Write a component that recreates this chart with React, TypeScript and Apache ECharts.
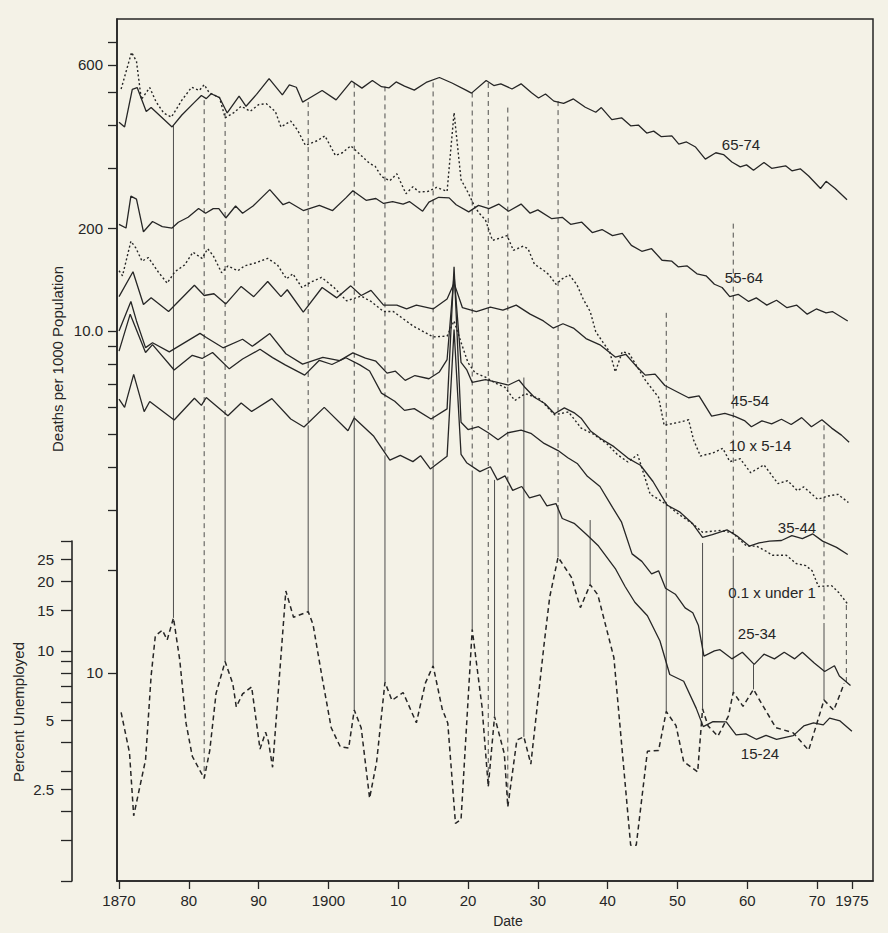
import React, { useEffect, useRef } from 'react';
import * as echarts from 'echarts';

// ---------- axis ticks / labels ----------
const X_TICKS = [1870, 1880, 1890, 1900, 1910, 1920, 1930, 1940, 1950, 1960, 1970, 1975];
const X_TICK_LABELS: Record<number, string> = {
  1870: '1870', 1880: '80', 1890: '90', 1900: '1900', 1910: '10', 1920: '20',
  1930: '30', 1940: '40', 1950: '50', 1960: '60', 1970: '70', 1975: '1975',
};
const DEATH_TICKS = [1, 2, 3, 4, 5, 6, 7, 8, 9, 10, 20, 30, 40, 50, 60, 70];
const DEATH_TICK_LABELS: Record<number, string> = { 1: '10', 10: '10.0', 20: '200', 60: '600' };
const UNEMP_TICKS = [1, 1.5, 2, 2.5, 3, 4, 5, 6, 7, 8, 9, 10, 15, 20, 25, 30];
const UNEMP_TICK_LABELS: Record<number, string> = { 2.5: '2.5', 5: '5', 10: '10', 15: '15', 20: '20', 25: '25' };

// ---------- series: deaths per 1000 ----------
const AGE_65_74 = [
  [1870.0, 40.8], [1870.8, 39.5], [1871.9, 50.9], [1872.6, 51.5], [1873.9, 43.8], [1874.6, 45.0], [1877.6, 39.5],
  [1879.0, 42.8], [1880.8, 46.6], [1881.8, 48.8], [1882.5, 47.8], [1883.2, 49.4], [1884.4, 48.1], [1885.5, 43.4],
  [1887.2, 48.6], [1888.2, 45.4], [1889.7, 49.2], [1891.5, 54.7], [1893.4, 49.0], [1894.4, 52.4], [1895.4, 51.6],
  [1896.3, 46.7], [1897.0, 47.6], [1899.1, 50.5], [1901.1, 47.4], [1903.3, 53.8], [1904.8, 51.3], [1906.3, 54.0],
  [1907.6, 51.8], [1908.7, 51.4], [1909.7, 53.5], [1910.9, 52.0], [1912.3, 50.6], [1914.0, 53.3], [1915.9, 55.1],
  [1917.7, 53.1], [1919.7, 50.6], [1920.5, 49.6], [1922.6, 54.0], [1923.7, 52.2], [1924.7, 52.8], [1926.3, 51.0],
  [1927.6, 52.8], [1929.1, 49.7], [1930.1, 48.0], [1931.1, 49.3], [1932.3, 47.0], [1933.7, 46.3], [1935.1, 47.7],
  [1936.8, 45.1], [1938.3, 43.6], [1939.1, 45.0], [1940.6, 41.5], [1942.0, 42.0], [1943.3, 39.8], [1944.4, 40.0],
  [1945.6, 37.9], [1946.6, 38.4], [1947.7, 37.0], [1949.2, 37.2], [1950.2, 35.2], [1951.3, 35.7], [1952.6, 34.5],
  [1954.0, 31.8], [1955.5, 33.2], [1956.6, 32.8], [1957.8, 31.2], [1959.0, 30.2], [1959.9, 30.6], [1960.9, 29.5],
  [1962.4, 31.1], [1963.5, 29.9], [1965.5, 30.4], [1966.4, 29.4], [1967.6, 29.8], [1968.8, 28.4], [1970.5, 26.1],
  [1971.3, 27.4], [1972.6, 26.1], [1974.3, 24.2],
];
const AGE_55_64 = [
  [1870.0, 20.5], [1871.0, 20.0], [1871.7, 24.8], [1872.5, 24.3], [1873.5, 19.5], [1874.8, 20.9], [1876.2, 20.2],
  [1877.6, 20.0], [1878.5, 20.8], [1879.9, 21.5], [1881.4, 22.8], [1882.4, 22.1], [1883.5, 22.8], [1884.3, 22.8],
  [1885.3, 21.4], [1886.7, 23.2], [1887.7, 22.1], [1889.2, 23.2], [1891.6, 25.9], [1893.5, 23.4], [1894.4, 23.8],
  [1896.4, 22.5], [1898.7, 23.3], [1900.6, 22.5], [1902.5, 24.5], [1903.5, 25.7], [1905.4, 24.1], [1906.8, 24.4],
  [1907.9, 23.6], [1909.2, 23.9], [1910.7, 23.5], [1911.6, 23.9], [1913.5, 22.4], [1914.4, 23.8], [1915.8, 24.6],
  [1917.3, 24.5], [1918.3, 23.4], [1920.1, 22.3], [1921.5, 23.3], [1923.0, 22.8], [1924.4, 23.5], [1925.8, 22.4],
  [1927.6, 23.5], [1928.9, 22.1], [1930.0, 22.6], [1932.0, 21.3], [1933.5, 21.5], [1934.7, 20.5], [1936.3, 20.8],
  [1937.8, 19.4], [1939.2, 19.8], [1940.7, 19.0], [1942.1, 19.3], [1943.4, 17.8], [1944.9, 17.1], [1946.3, 17.4],
  [1947.8, 16.1], [1949.2, 16.0], [1950.1, 15.4], [1951.4, 15.5], [1952.8, 14.7], [1954.1, 14.5], [1955.3, 13.7],
  [1956.4, 13.4], [1957.5, 12.6], [1958.7, 12.8], [1960.2, 12.2], [1961.3, 12.5], [1962.8, 11.9], [1964.2, 12.3],
  [1965.7, 11.7], [1967.1, 11.9], [1968.6, 11.2], [1969.9, 11.6], [1971.3, 11.3], [1972.2, 11.4], [1974.4, 10.7],
];
const AGE_45_54 = [
  [1870.0, 12.6], [1872.0, 14.9], [1873.5, 11.95], [1874.6, 12.5], [1877.1, 11.4], [1880.8, 13.6], [1882.2, 12.7],
  [1883.6, 12.85], [1885.3, 12.0], [1887.5, 13.5], [1889.3, 12.6], [1891.3, 13.95], [1893.2, 12.6], [1894.1, 13.2],
  [1896.4, 11.35], [1899.1, 13.4], [1901.2, 12.5], [1903.2, 13.55], [1904.7, 12.7], [1906.1, 13.15], [1907.9, 11.9],
  [1909.8, 11.9], [1911.2, 11.6], [1912.6, 11.9], [1915.0, 11.6], [1917.0, 12.4], [1918.0, 13.8], [1919.2, 11.7],
  [1921.2, 11.4], [1923.2, 11.75], [1925.0, 11.5], [1926.9, 11.9], [1928.9, 11.2], [1930.8, 10.7], [1932.2, 10.2],
  [1933.6, 10.5], [1935.1, 10.2], [1936.9, 9.5], [1938.9, 9.11], [1941.1, 8.39], [1942.6, 8.55], [1944.0, 7.93],
  [1945.4, 7.43], [1946.8, 7.48], [1948.2, 6.93], [1950.2, 6.6], [1951.6, 6.38], [1953.1, 6.46], [1954.9, 5.64],
  [1956.8, 5.74], [1958.2, 5.63], [1959.6, 5.47], [1960.6, 5.25], [1962.1, 5.46], [1963.5, 5.35], [1964.9, 5.52],
  [1966.3, 5.33], [1967.8, 5.58], [1969.2, 5.25], [1970.7, 5.5], [1972.1, 5.2], [1973.5, 4.96], [1974.6, 4.73],
];
const AGE_35_44 = [
  [1870.0, 10.0], [1871.7, 12.2], [1872.5, 10.7], [1873.8, 8.94], [1874.8, 9.24], [1877.2, 8.69], [1881.6, 9.84],
  [1882.5, 9.57], [1884.9, 8.93], [1887.7, 9.46], [1889.1, 9.02], [1891.6, 9.83], [1893.9, 8.58], [1896.3, 8.0],
  [1899.2, 8.37], [1901.6, 8.19], [1903.5, 8.63], [1905.3, 8.33], [1906.8, 8.16], [1908.4, 7.53], [1909.6, 7.63],
  [1911.0, 7.17], [1912.4, 7.41], [1914.4, 7.25], [1915.9, 7.59], [1917.0, 8.25], [1918.0, 14.6], [1919.0, 8.09],
  [1919.8, 7.71], [1920.6, 7.07], [1922.5, 7.21], [1923.9, 7.1], [1925.8, 6.95], [1927.3, 7.19], [1928.1, 6.86],
  [1929.5, 6.4], [1931.0, 6.14], [1932.4, 5.73], [1933.8, 5.96], [1935.3, 5.75], [1936.2, 5.56], [1937.6, 5.09],
  [1939.0, 4.85], [1940.9, 4.59], [1942.9, 4.25], [1944.7, 4.05], [1946.5, 3.63], [1948.5, 3.1], [1950.3, 2.96],
  [1952.2, 2.73], [1953.6, 2.49], [1955.0, 2.54], [1957.1, 2.62], [1958.5, 2.52], [1960.3, 2.35], [1961.7, 2.4],
  [1963.2, 2.43], [1964.9, 2.44], [1966.4, 2.52], [1967.9, 2.47], [1969.4, 2.55], [1970.8, 2.43], [1972.8, 2.33],
  [1974.4, 2.22],
];
const AGE_25_34 = [
  [1870.0, 8.73], [1871.6, 11.2], [1873.8, 8.65], [1874.8, 9.12], [1877.9, 7.69], [1880.5, 8.49], [1881.9, 8.31],
  [1883.4, 8.65], [1885.8, 7.75], [1887.7, 8.28], [1890.2, 8.84], [1892.0, 8.36], [1893.8, 7.96], [1896.6, 7.43],
  [1898.7, 8.21], [1900.5, 7.98], [1902.5, 8.35], [1904.5, 7.96], [1905.9, 7.64], [1907.6, 6.58], [1909.5, 6.23],
  [1910.9, 5.86], [1912.3, 5.93], [1914.7, 5.53], [1917.0, 5.92], [1918.0, 15.4], [1919.0, 5.41], [1920.0, 5.15],
  [1921.5, 5.25], [1922.9, 5.04], [1924.3, 4.81], [1925.7, 5.04], [1927.6, 5.13], [1929.0, 5.02], [1930.9, 4.69],
  [1932.9, 4.47], [1934.3, 4.26], [1935.7, 4.09], [1937.1, 3.76], [1938.9, 3.51], [1940.7, 3.05], [1942.0, 2.76],
  [1943.5, 2.23], [1944.9, 2.12], [1946.3, 1.95], [1947.3, 1.99], [1948.3, 1.77], [1949.7, 1.7], [1951.1, 1.55],
  [1952.2, 1.5], [1953.0, 1.38], [1953.8, 1.12], [1955.3, 1.16], [1956.1, 1.17], [1957.8, 1.1], [1959.3, 1.15],
  [1961.0, 1.06], [1962.4, 1.135], [1963.9, 1.1], [1965.3, 1.15], [1966.8, 1.1], [1967.9, 1.15], [1969.6, 1.07],
  [1971.1, 1.01], [1972.5, 1.05], [1973.2, 0.98], [1974.8, 0.92],
];
const AGE_15_24 = [
  [1870.0, 6.32], [1870.8, 5.98], [1872.1, 7.47], [1873.6, 5.81], [1874.4, 6.22], [1877.9, 5.49], [1880.8, 6.36],
  [1881.8, 6.06], [1882.5, 6.39], [1885.6, 5.65], [1887.5, 6.16], [1889.0, 5.82], [1891.9, 6.34], [1894.6, 5.53],
  [1896.5, 5.24], [1899.4, 5.98], [1902.8, 5.11], [1903.7, 5.57], [1906.5, 4.92], [1908.8, 4.19], [1910.3, 4.33],
  [1912.1, 4.15], [1913.2, 4.32], [1914.6, 3.95], [1917.0, 4.3], [1918.0, 10.1], [1919.0, 4.36], [1919.8, 4.12],
  [1921.7, 3.88], [1923.2, 4.01], [1924.2, 3.67], [1925.3, 3.77], [1926.4, 3.42], [1927.7, 3.51], [1928.8, 3.25],
  [1930.3, 3.32], [1931.3, 3.08], [1932.6, 3.13], [1933.5, 2.83], [1935.2, 2.74], [1936.9, 2.55], [1938.7, 2.35],
  [1941.1, 2.02], [1942.5, 1.79], [1943.9, 1.61], [1945.7, 1.47], [1947.5, 1.24], [1948.9, 0.99], [1950.9, 0.946],
  [1952.7, 0.788], [1953.7, 0.697], [1955.1, 0.721], [1957.0, 0.72], [1958.4, 0.659], [1959.8, 0.664], [1961.3, 0.64],
  [1962.7, 0.657], [1964.2, 0.64], [1966.6, 0.656], [1968.1, 0.7], [1969.5, 0.715], [1970.9, 0.705], [1971.8, 0.738],
  [1973.3, 0.724], [1975.0, 0.676],
];
// dotted: 0.1 x under 1
const UNDER_1_X01 = [
  [1870.0, 15.0], [1870.5, 14.5], [1871.7, 18.3], [1872.4, 17.5], [1873.3, 16.0], [1874.2, 16.4], [1875.6, 14.9],
  [1876.9, 13.8], [1878.0, 14.9], [1879.4, 15.6], [1880.6, 17.0], [1881.9, 16.3], [1882.7, 17.4], [1883.5, 16.6],
  [1884.7, 14.8], [1885.6, 15.5], [1887.0, 15.0], [1888.0, 15.5], [1889.5, 15.8], [1891.3, 16.3], [1892.7, 15.6],
  [1894.0, 14.2], [1894.9, 14.7], [1896.2, 13.4], [1897.5, 13.9], [1899.0, 14.35], [1900.8, 13.4], [1902.6, 12.25],
  [1904.7, 12.65], [1906.1, 12.2], [1907.9, 11.4], [1909.3, 11.4], [1912.1, 10.35], [1915.0, 9.61], [1917.0, 9.66],
  [1918.0, 10.7], [1919.0, 9.26], [1920.0, 8.08], [1921.0, 7.55], [1922.5, 7.33], [1923.9, 7.04], [1925.3, 6.84],
  [1926.7, 6.26], [1928.2, 6.56], [1930.2, 6.34], [1932.4, 5.69], [1934.4, 5.8], [1936.2, 5.2], [1938.0, 4.99],
  [1940.0, 4.66], [1941.4, 4.35], [1942.9, 4.14], [1944.3, 4.35], [1946.1, 3.33], [1947.1, 3.24], [1948.5, 3.1],
  [1950.3, 2.9], [1952.2, 2.73], [1953.6, 2.58], [1956.1, 2.61], [1957.9, 2.57], [1959.9, 2.35], [1961.3, 2.35],
  [1962.7, 2.27], [1963.6, 2.21], [1965.6, 2.21], [1967.0, 2.09], [1968.4, 2.06], [1969.3, 1.99], [1970.2, 1.79],
  [1972.1, 1.8], [1973.1, 1.72], [1974.5, 1.58],
];
// dotted: 10 x 5-14
const AGE_5_14_X10 = [
  [1870.3, 51.0], [1871.8, 65.3], [1872.5, 61.4], [1873.2, 47.5], [1874.4, 51.5], [1875.3, 46.8], [1876.4, 43.4],
  [1877.5, 42.2], [1879.0, 47.3], [1880.4, 51.6], [1881.5, 50.5], [1882.2, 52.5], [1882.9, 49.8], [1884.4, 48.1],
  [1885.2, 42.0], [1886.4, 43.4], [1887.5, 45.4], [1888.8, 43.9], [1890.0, 45.9], [1891.1, 46.2], [1892.4, 43.8],
  [1893.2, 39.5], [1893.9, 40.3], [1894.6, 41.1], [1895.6, 38.6], [1896.7, 34.9], [1898.4, 36.0], [1899.5, 37.2],
  [1901.0, 32.6], [1902.0, 33.2], [1903.2, 34.8], [1904.6, 32.7], [1905.9, 30.9], [1906.7, 30.3], [1907.6, 28.3],
  [1908.8, 27.5], [1909.8, 28.8], [1911.1, 25.2], [1912.1, 26.4], [1913.0, 25.5], [1914.3, 25.6], [1915.5, 26.3],
  [1917.0, 25.6], [1918.0, 43.5], [1919.0, 27.7], [1920.0, 25.4], [1921.0, 23.0], [1921.6, 22.1], [1922.5, 21.1],
  [1923.5, 18.4], [1924.6, 18.7], [1925.6, 19.0], [1926.5, 17.2], [1927.9, 17.7], [1928.6, 17.4], [1929.5, 15.7],
  [1930.9, 15.0], [1931.6, 14.6], [1932.6, 13.7], [1933.5, 14.2], [1934.5, 14.6], [1935.6, 13.65], [1936.5, 12.4],
  [1937.5, 11.4], [1938.3, 9.95], [1939.3, 9.29], [1940.3, 8.68], [1941.1, 7.59], [1942.1, 8.7], [1943.1, 8.58],
  [1944.0, 8.01], [1945.4, 7.18], [1947.3, 6.4], [1948.1, 5.3], [1950.1, 5.4], [1951.6, 5.5], [1952.3, 4.81],
  [1953.3, 4.31], [1955.1, 4.4], [1956.5, 4.54], [1957.5, 4.15], [1959.0, 4.23], [1960.5, 3.85], [1962.4, 4.06],
  [1964.4, 3.58], [1965.8, 3.65], [1967.2, 3.41], [1968.1, 3.5], [1970.1, 3.22], [1971.5, 3.29], [1973.0, 3.33],
  [1974.5, 3.15],
];
// ---------- series: percent unemployed ----------
const UNEMPLOYED = [
  [1870.3, 5.4], [1871.5, 3.61], [1872.1, 1.92], [1873.8, 3.36], [1874.6, 7.79], [1875.2, 11.6], [1876.2, 12.3],
  [1876.9, 11.15], [1877.8, 13.9], [1878.7, 9.12], [1879.6, 4.85], [1880.5, 3.48], [1882.2, 2.79], [1883.0, 3.69],
  [1883.9, 6.52], [1885.2, 8.98], [1886.3, 7.2], [1886.8, 5.71], [1887.7, 6.5], [1889.0, 6.97], [1890.2, 3.74],
  [1891.0, 4.43], [1891.4, 4.05], [1892.0, 3.12], [1893.9, 18.2], [1895.0, 14.0], [1897.1, 14.8], [1897.8, 13.0],
  [1899.1, 7.65], [1900.4, 4.63], [1901.7, 3.83], [1902.9, 3.78], [1903.7, 5.53], [1904.7, 4.62], [1905.9, 2.29],
  [1906.9, 3.28], [1908.1, 7.3], [1909.1, 6.09], [1910.7, 6.59], [1912.6, 4.87], [1913.9, 7.26], [1915.0, 8.61],
  [1916.3, 5.59], [1917.1, 4.85], [1918.2, 1.78], [1919.0, 1.85], [1920.6, 12.4], [1922.0, 5.73], [1922.9, 2.57],
  [1923.8, 5.18], [1925.2, 3.57], [1925.7, 2.1], [1927.0, 4.1], [1928.0, 4.23], [1929.0, 3.22], [1930.9, 10.7],
  [1931.7, 17.1], [1932.9, 25.5], [1934.8, 20.9], [1936.1, 15.4], [1937.5, 19.4], [1938.6, 17.5], [1940.9, 9.33],
  [1943.3, 1.43], [1944.1, 1.43], [1945.7, 3.66], [1947.3, 3.69], [1948.4, 5.45], [1949.8, 4.73], [1950.9, 3.3],
  [1952.9, 2.98], [1953.6, 5.6], [1954.4, 4.71], [1955.8, 4.26], [1957.3, 5.2], [1958.0, 6.61], [1959.4, 5.74],
  [1960.9, 6.8], [1962.3, 5.73], [1964.1, 4.64], [1966.6, 4.4], [1968.8, 3.7], [1971.0, 6.11], [1972.4, 5.52],
  [1973.9, 7.22],
];
// vertical reference lines: [year, top (deaths), dash->solid change (deaths), bottom (% unemployed), style]
// style 0 = solid, 1 = dashed above the change point and solid below, 2 = dashed
const CYCLE_LINES = [
  [1877.8, 40.0, 40.0, 13.9, 0],
  [1882.2, 47.3, 47.3, 2.79, 2],
  [1885.2, 43.4, 5.6, 8.98, 1],
  [1897.1, 46.7, 5.3, 14.8, 1],
  [1903.7, 53.2, 5.5, 5.53, 1],
  [1908.1, 51.9, 4.3, 7.3, 1],
  [1915.0, 53.3, 4.0, 8.61, 1],
  [1920.6, 49.8, 3.9, 12.4, 1],
  [1922.9, 53.1, 53.1, 2.57, 2],
  [1923.8, 3.67, 3.67, 5.18, 0],
  [1925.7, 45.0, 45.0, 2.1, 2],
  [1928.0, 7.31, 7.31, 4.23, 0],
  [1932.9, 47.0, 3.1, 25.5, 1],
  [1937.5, 2.8, 2.8, 19.4, 0],
  [1948.4, 11.3, 3.1, 5.45, 1],
  [1953.6, 2.4, 2.4, 5.6, 0],
  [1958.0, 20.6, 2.2, 6.61, 1],
  [1960.9, 1.06, 1.06, 6.8, 0],
  [1971.0, 5.3, 1.4, 6.11, 1],
  [1974.2, 1.58, 1.58, 7.22, 2],
];

const INK = '#262626';
const INK2 = '#3c3c3c';
const PAPER = '#f4f2e7';
const FONT = '"Liberation Sans", Arial, sans-serif';

function pick(map: Record<number, string>, v: number): string {
  for (const k of Object.keys(map)) {
    const n = Number(k);
    if (Math.abs(n - v) < 1e-3 * Math.max(1, n)) return map[n];
  }
  return '';
}

export default function App() {
  const ref = useRef<HTMLDivElement>(null);
  useEffect(() => {
    const el = ref.current;
    if (!el) return;
    const chart = echarts.init(el, null, { renderer: 'svg' });

    const solidSeries = (name: string, data: number[][]) => ({
      type: 'line', name, data, xAxisIndex: 0, yAxisIndex: 0, showSymbol: false, symbol: 'none',
      silent: true, z: 3, clip: false,
      lineStyle: { color: INK, width: 1.3, type: 'solid' },
    });
    const dottedSeries = (name: string, data: number[][]) => ({
      type: 'line', name, data, xAxisIndex: 0, yAxisIndex: 0, showSymbol: false, symbol: 'none',
      silent: true, z: 3, clip: false,
      lineStyle: { color: INK, width: 1.4, type: [2, 2.4] },
    });

    const axisText = { color: INK, fontFamily: FONT };

    const option: any = {
      animation: false,
      backgroundColor: PAPER,
      grid: [
        { left: 117, right: 15, top: 19, bottom: 52, show: true, borderColor: INK, borderWidth: 1.5, containLabel: false, outerBoundsMode: 'none' },
        { left: 117, right: 15, top: 541, bottom: 52, show: false, containLabel: false, outerBoundsMode: 'none' },
      ],
      xAxis: [
        {
          gridIndex: 0, type: 'value', min: 1869.71, max: 1978.02,
          axisLine: { show: true, onZero: false, lineStyle: { color: INK, width: 1.6 } },
          axisTick: { show: true, customValues: X_TICKS, length: 8, inside: false, lineStyle: { color: INK, width: 1.3 } },
          axisLabel: { show: true, customValues: X_TICKS, formatter: (v: number) => pick(X_TICK_LABELS, v), fontSize: 15, margin: 12, ...axisText },
          splitLine: { show: false },
        },
        { gridIndex: 1, type: 'value', min: 1869.71, max: 1978.02, show: false, axisLine: { onZero: false }, splitLine: { show: false } },
      ],
      yAxis: [
        {
          gridIndex: 0, type: 'log', logBase: 10, min: 0.2465, max: 81.7,
          axisLine: { show: true, lineStyle: { color: INK, width: 1.6 } },
          axisTick: { show: true, customValues: DEATH_TICKS, length: 9, inside: false, lineStyle: { color: INK, width: 1.3 } },
          axisLabel: { show: true, customValues: [1, 10, 20, 60], formatter: (v: number) => pick(DEATH_TICK_LABELS, v), fontSize: 15, margin: 14, ...axisText },
          splitLine: { show: false },
        },
        {
          gridIndex: 1, type: 'log', logBase: 10, min: 1, max: 30, position: 'left', offset: 45,
          axisLine: { show: true, lineStyle: { color: INK, width: 1.6 } },
          axisTick: { show: true, customValues: UNEMP_TICKS, length: 11, inside: false, lineStyle: { color: INK, width: 1.3 } },
          axisLabel: { show: true, customValues: [2.5, 5, 10, 15, 20, 25], formatter: (v: number) => pick(UNEMP_TICK_LABELS, v), fontSize: 15, margin: 18, ...axisText },
          splitLine: { show: false },
        },
      ],
      series: [
        {
          type: 'custom', name: 'cycle lines', xAxisIndex: 0, yAxisIndex: 0, z: 1, silent: true,
          data: CYCLE_LINES,
          renderItem: (params: any, api: any) => {
            const yr = api.value(0);
            const p0 = api.coord([yr, api.value(1)]);
            let p2: number[] | null = null;
            try {
              p2 = chart.convertToPixel({ gridIndex: 1 } as any, [yr, api.value(3)]) as any;
            } catch (e) {
              p2 = null;
            }
            if (!p2 || !p0) return null;
            const st = api.value(4);
            const solid = { stroke: INK2, lineWidth: 0.9, fill: null };
            const dashed = { stroke: INK2, lineWidth: 0.9, fill: null, lineDash: [5, 4] };
            if (st === 0 || st === 2) {
              return { type: 'line', shape: { x1: p0[0], y1: p0[1], x2: p2[0], y2: p2[1] }, style: st === 0 ? solid : dashed };
            }
            const p1 = api.coord([yr, api.value(2)]);
            return {
              type: 'group',
              children: [
                { type: 'line', shape: { x1: p0[0], y1: p0[1], x2: p1[0], y2: p1[1] }, style: dashed },
                { type: 'line', shape: { x1: p1[0], y1: p1[1], x2: p2[0], y2: p2[1] }, style: solid },
              ],
            };
          },
        },
        solidSeries('65-74', AGE_65_74),
        dottedSeries('10 x 5-14', AGE_5_14_X10),
        solidSeries('55-64', AGE_55_64),
        dottedSeries('0.1 x under 1', UNDER_1_X01),
        solidSeries('45-54', AGE_45_54),
        solidSeries('35-44', AGE_35_44),
        solidSeries('25-34', AGE_25_34),
        solidSeries('15-24', AGE_15_24),
        {
          type: 'line', name: 'Percent Unemployed', data: UNEMPLOYED, xAxisIndex: 1, yAxisIndex: 1,
          showSymbol: false, symbol: 'none', silent: true, z: 3, clip: false,
          lineStyle: { color: INK, width: 1.5, type: [5, 3.5] },
        },
      ],
      graphic: [
        { type: 'text', x: 57, y: 359, rotation: Math.PI / 2, style: { text: 'Deaths per 1000 Population', fill: INK, font: `15px ${FONT}`, align: 'center', verticalAlign: 'middle' } },
        { type: 'text', x: 18, y: 712, rotation: Math.PI / 2, style: { text: 'Percent Unemployed', fill: INK, font: `15px ${FONT}`, align: 'center', verticalAlign: 'middle' } },
        { type: 'text', x: 508, y: 921, style: { text: 'Date', fill: INK, font: `14px ${FONT}`, align: 'center', verticalAlign: 'middle' } },
        { type: 'text', x: 741, y: 144, style: { text: '65-74', fill: INK, font: `15px ${FONT}`, align: 'center', verticalAlign: 'middle' } },
        { type: 'text', x: 744, y: 277, style: { text: '55-64', fill: INK, font: `15px ${FONT}`, align: 'center', verticalAlign: 'middle' } },
        { type: 'text', x: 750, y: 400, style: { text: '45-54', fill: INK, font: `15px ${FONT}`, align: 'center', verticalAlign: 'middle' } },
        { type: 'text', x: 760, y: 445, style: { text: '10 x 5-14', fill: INK, font: `15px ${FONT}`, align: 'center', verticalAlign: 'middle' } },
        { type: 'text', x: 797, y: 527, style: { text: '35-44', fill: INK, font: `15px ${FONT}`, align: 'center', verticalAlign: 'middle' } },
        { type: 'text', x: 772, y: 592, style: { text: '0.1 x under 1', fill: INK, font: `15px ${FONT}`, align: 'center', verticalAlign: 'middle' } },
        { type: 'text', x: 757, y: 633, style: { text: '25-34', fill: INK, font: `15px ${FONT}`, align: 'center', verticalAlign: 'middle' } },
        { type: 'text', x: 760, y: 753, style: { text: '15-24', fill: INK, font: `15px ${FONT}`, align: 'center', verticalAlign: 'middle' } },
      ],
    };

    chart.setOption(option);
    return () => {
      chart.dispose();
    };
  }, []);

  return (
    <div
      ref={ref}
      style={{ position: 'fixed', left: 0, top: 0, width: 888, height: 933, background: PAPER }}
    />
  );
}
